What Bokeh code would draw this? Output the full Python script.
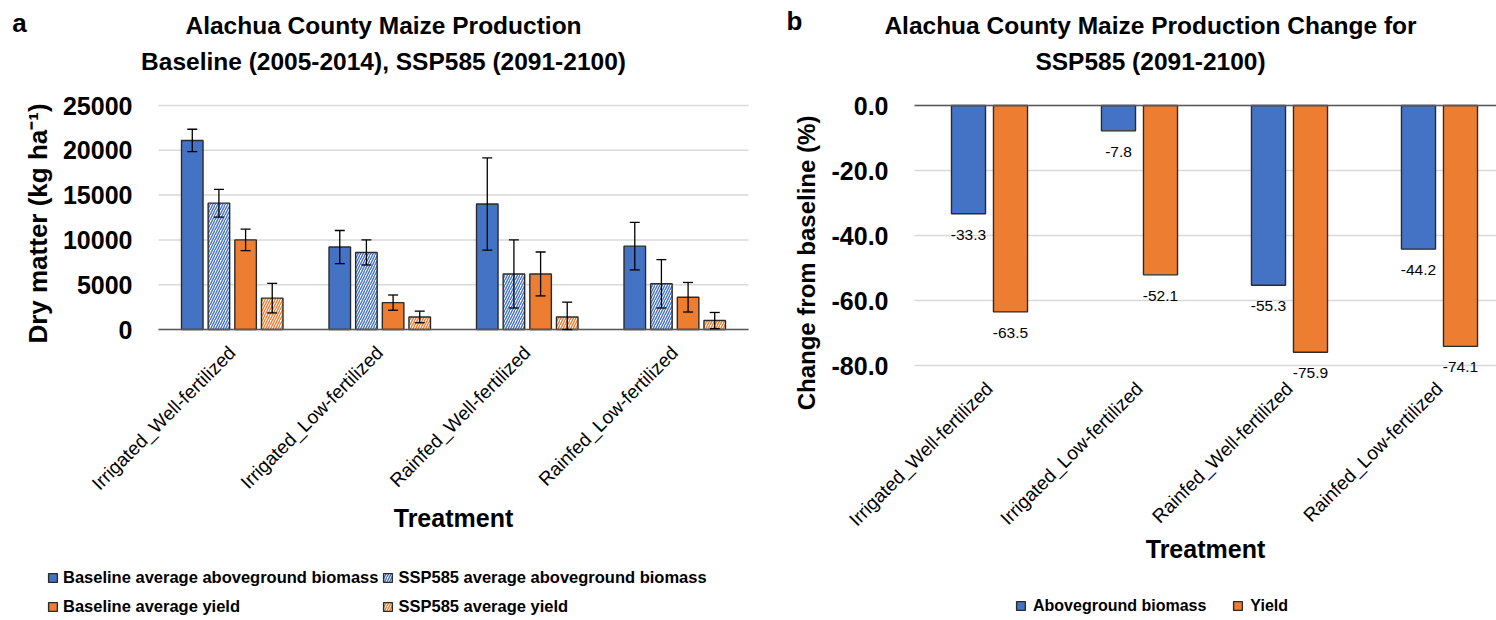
import numpy as np
from bokeh.plotting import figure
from bokeh.layouts import row
from bokeh.models import (ColumnDataSource, Range1d, FixedTicker, Whisker, TeeHead,
                          Legend, LegendItem, Label, LabelSet, PrintfTickFormatter)
from bokeh.embed import file_html
from bokeh.resources import INLINE
from bokeh.core.properties import value

# ---------------- data ----------------
treatments = ["Irrigated_Well-fertilized", "Irrigated_Low-fertilized",
              "Rainfed_Well-fertilized", "Rainfed_Low-fertilized"]

baseline_biomass = [21100, 9200, 14000, 9300]
baseline_biomass_err = [1250, 1850, 5150, 2650]
ssp_biomass = [14100, 8600, 6200, 5100]
ssp_biomass_err = [1550, 1400, 3800, 2700]
baseline_yield = [10000, 3000, 6200, 3600]
baseline_yield_err = [1200, 850, 2450, 1650]
ssp_yield = [3500, 1400, 1400, 1000]
ssp_yield_err = [1650, 650, 1650, 900]
yticks_a = [0, 5000, 10000, 15000, 20000, 25000]

biomass_change = [-33.3, -7.8, -55.3, -44.2]
yield_change = [-63.5, -52.1, -75.9, -74.1]
yticks_b = [0, -20, -40, -60, -80]

# ---------------- style / layout ----------------
FONT = "Liberation Sans"
BLUE = "#4472C4"
ORANGE = "#ED7D31"
EDGE = "#2B2B2B"
GRID = "#D9D9D9"
AXIS = "#595959"

H = 620
W1 = 778
W2 = 718

# pixel geometry of the plot areas (canvas-local pixels)
X0A, UXA, Y0A, VYA = 158.0, 147.5, 329.0, 224.0 / 25000.0
X0B, UXB, Y0B, VYB = 136.0, 150.0, 105.0, 3.25


def xa(px):
    return (px - X0A) / UXA


def ya(py):
    return (Y0A - py) / VYA


def xb(px):
    return (px - X0B) / UXB


def yb(py):
    return (Y0B - py) / VYB


def style_common(p):
    p.outline_line_color = None
    p.background_fill_color = "white"
    p.border_fill_color = "white"
    p.min_border = 0
    p.xgrid.visible = False
    p.ygrid.visible = False
    for ax in (p.xaxis, p.yaxis):
        ax.major_tick_line_color = None
        ax.minor_tick_line_color = None
        ax.major_tick_out = 0
        ax.major_tick_in = 0
        ax.major_label_text_color = "black"
        ax.major_label_text_font = FONT
        ax.axis_label_text_font = FONT
        ax.axis_label_text_font_style = "bold"
        ax.axis_label_text_color = "black"
    p.yaxis.axis_line_color = None
    p.yaxis.major_label_text_font_style = "bold"
    p.yaxis.major_label_text_font_size = "25px"
    p.yaxis.major_label_standoff = 26
    p.xaxis.major_label_orientation = np.pi / 4
    p.xaxis.major_label_text_font_size = "19px"
    p.xaxis.major_label_standoff = 20
    p.xaxis.axis_label = "Treatment"
    p.xaxis.axis_label_text_font_size = "25px"


def add_text(p, x, y, text, size):
    p.add_layout(Label(x=x, y=y, text=text, text_font=FONT, text_font_size=size,
                       text_font_style="bold", text_align="center",
                       text_baseline="middle", text_color="black"))


centers = np.arange(len(treatments)) + 0.5

# ================= panel a =================
pa = figure(width=W1, height=H, output_backend="svg", toolbar_location=None,
            x_range=Range1d(xa(0), xa(W1)), y_range=Range1d(ya(H), ya(0)))
style_common(pa)

# horizontal grid lines of the plot area
pa.segment(x0=0, x1=len(treatments), y0=yticks_a, y1=yticks_a,
           line_color=GRID, line_width=1.5)

series_a = [
    (baseline_biomass, baseline_biomass_err, BLUE, False, "Baseline average aboveground biomass"),
    (ssp_biomass, ssp_biomass_err, BLUE, True, "SSP585 average aboveground biomass"),
    (baseline_yield, baseline_yield_err, ORANGE, False, "Baseline average yield"),
    (ssp_yield, ssp_yield_err, ORANGE, True, "SSP585 average yield"),
]
offsets_a = [-0.271, -0.0905, 0.0905, 0.271]
items_a = []
for (vals, errs, col, hatched, name), off in zip(series_a, offsets_a):
    v = np.array(vals, dtype=float)
    e = np.array(errs, dtype=float)
    src = ColumnDataSource(dict(x=centers + off, top=v, upper=v + e,
                                lower=np.maximum(v - e, 0)))
    kw = dict(fill_color=col)
    if hatched:
        kw = dict(fill_color="white", hatch_pattern="/", hatch_color=col,
                  hatch_scale=5, hatch_weight=1.4)
    r = pa.vbar(x="x", top="top", bottom=0, width=0.146, source=src,
                line_color=EDGE, line_width=1.4, **kw)
    items_a.append(LegendItem(label=name, renderers=[r]))
    pa.add_layout(Whisker(base="x", upper="upper", lower="lower", source=src,
                          dimension="height", line_color="black", line_width=1.3,
                          level="annotation",
                          upper_head=TeeHead(size=10, line_color="black", line_width=1.3),
                          lower_head=TeeHead(size=10, line_color="black", line_width=1.3)))

pa.xaxis.fixed_location = 0
pa.xaxis.bounds = (0, len(treatments))
pa.xaxis.ticker = FixedTicker(ticks=list(centers))
pa.xaxis.major_label_overrides = {float(c): t for c, t in zip(centers, treatments)}
pa.xaxis.axis_line_color = AXIS
pa.xaxis.axis_line_width = 1.5
pa.xaxis.axis_label_standoff = 0

pa.yaxis.fixed_location = 0
pa.yaxis.bounds = (-1300, 25000)
pa.yaxis.ticker = FixedTicker(ticks=yticks_a)
pa.yaxis.axis_label = "Dry matter (kg ha\u207b\u00b9)"
pa.yaxis.axis_label_text_font_size = "26px"
pa.yaxis.axis_label_standoff = 7

leg_a = Legend(items=items_a, ncols=2, orientation="horizontal", location=(47, 1),
               glyph_width=11, glyph_height=11, label_standoff=5, spacing=4,
               label_height=25, padding=0, margin=0, border_line_color=None,
               background_fill_alpha=0, label_text_font=FONT, label_text_color="black",
               label_text_font_style="bold", label_text_font_size="16.5px")
pa.add_layout(leg_a, "center")

add_text(pa, xa(383), ya(25), "Alachua County Maize Production", "24.5px")
add_text(pa, xa(383), ya(61), "Baseline (2005-2014), SSP585 (2091-2100)", "24.5px")
add_text(pa, xa(19), ya(22), "a", "26px")

# ================= panel b =================
pb = figure(width=W2, height=H, output_backend="svg", toolbar_location=None,
            x_range=Range1d(xb(0), xb(W2)), y_range=Range1d(yb(H), yb(0)))
style_common(pb)

pb.segment(x0=0, x1=xb(W2), y0=yticks_b, y1=yticks_b, line_color=GRID, line_width=1.5)

series_b = [
    (biomass_change, BLUE, "Aboveground biomass", -0.14),
    (yield_change, ORANGE, "Yield", 0.14),
]
items_b = []
for vals, col, name, off in series_b:
    src = ColumnDataSource(dict(x=centers + off, top=vals,
                                label=[f"{v:.1f}" for v in vals]))
    r = pb.vbar(x="x", top="top", bottom=0, width=0.227, source=src,
                fill_color=col, line_color=EDGE, line_width=1.4)
    items_b.append(LegendItem(label=name, renderers=[r]))
    pb.add_layout(LabelSet(x="x", y="top", text="label", source=src, y_offset=-21,
                           text_align="center", text_baseline="middle",
                           text_font=value(FONT), text_font_size="15.5px",
                           text_color="black"))

# zero line (category axis crossing)
pb.segment(x0=[0], x1=[xb(W2)], y0=[0], y1=[0], line_color=AXIS, line_width=1.5)

pb.xaxis.fixed_location = -80
pb.xaxis.bounds = (0, len(treatments))
pb.xaxis.ticker = FixedTicker(ticks=list(centers))
pb.xaxis.major_label_overrides = {float(c): t for c, t in zip(centers, treatments)}
pb.xaxis.axis_line_color = None
pb.xaxis.axis_label_standoff = -5

pb.yaxis.fixed_location = 0
pb.yaxis.bounds = (-97, 0)
pb.yaxis.ticker = FixedTicker(ticks=yticks_b)
pb.yaxis.formatter = PrintfTickFormatter(format="%.1f")
pb.yaxis.axis_label = "Change from baseline (%)"
pb.yaxis.axis_label_text_font_size = "24px"
pb.yaxis.axis_label_standoff = 9

leg_b = Legend(items=items_b, orientation="horizontal", location=(1015 - 778, 2),
               glyph_width=11, glyph_height=11, label_standoff=7, spacing=26,
               label_height=25, padding=0, margin=0, border_line_color=None,
               background_fill_alpha=0, label_text_font=FONT, label_text_color="black",
               label_text_font_style="bold", label_text_font_size="16px")
pb.add_layout(leg_b, "center")

add_text(pb, xb(1150 - 778), yb(25), "Alachua County Maize Production Change for", "24.5px")
add_text(pb, xb(1150 - 778), yb(61), "SSP585 (2091-2100)", "24.5px")
add_text(pb, xb(794 - 778), yb(20), "b", "26px")

layout = row(pa, pb)
open("out.html", "w").write(file_html(layout, INLINE))
